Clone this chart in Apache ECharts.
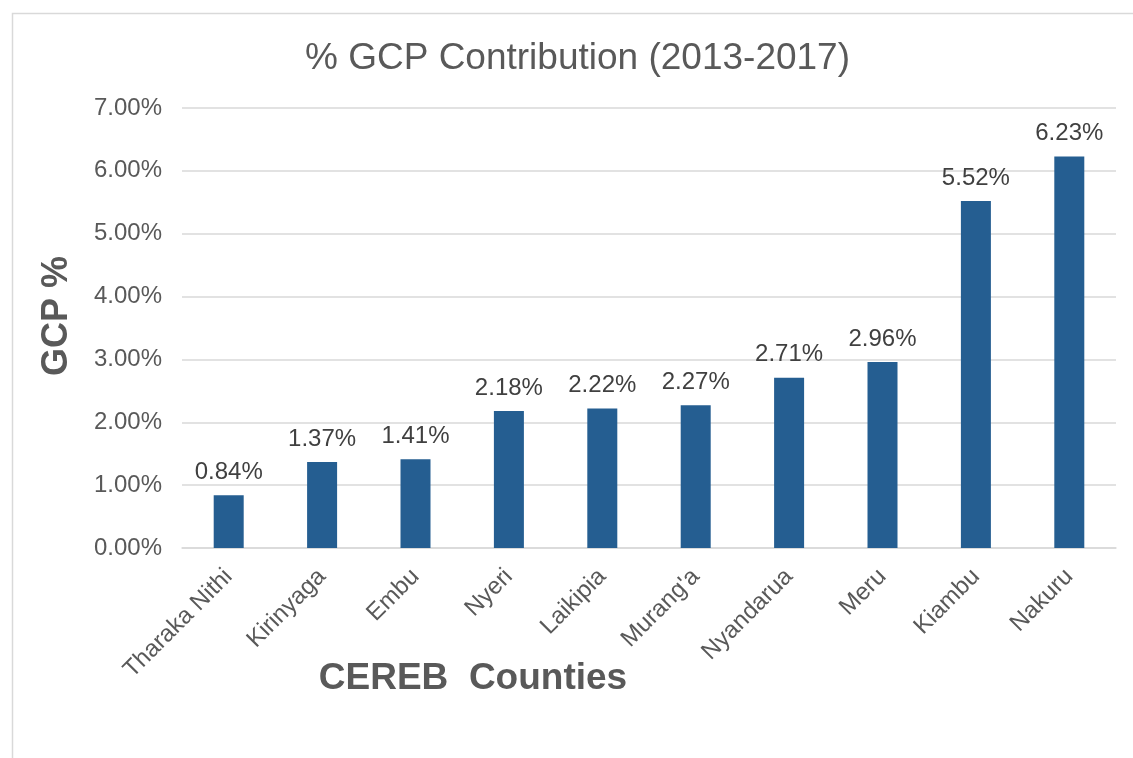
<!DOCTYPE html>
<html>
<head>
<meta charset="utf-8">
<script src="https://cdn.jsdelivr.net/npm/echarts@6/dist/echarts.min.js"></script>
<style>
  html, body { margin: 0; padding: 0; background: #fff; }
  #chart { width: 1133px; height: 758px; }
</style>
</head>
<body>
<div id="chart"></div>
<script>
// county names along the x axis
var counties = ['Tharaka Nithi', 'Kirinyaga', 'Embu', 'Nyeri', 'Laikipia', "Murang'a", 'Nyandarua', 'Meru', 'Kiambu', 'Nakuru'];
// GCP share in percent
var gcpShare = [0.84, 1.37, 1.41, 2.18, 2.22, 2.27, 2.71, 2.96, 5.52, 6.23];

var font = '"Liberation Sans", Arial, sans-serif';
var chart = echarts.init(document.getElementById('chart'));

chart.setOption({
  animation: false,
  backgroundColor: '#fff',
  textStyle: { fontFamily: font },
  title: {
    text: '% GCP Contribution (2013-2017)',
    left: 300,
    top: 35,
    textStyle: { fontFamily: font, fontSize: 37, fontWeight: 'normal', color: '#595959' }
  },
  graphic: [{
    type: 'rect',
    left: 10, top: 11,
    shape: { width: 1200, height: 800 },
    style: { fill: 'none', stroke: '#d9d9d9', lineWidth: 1.5 },
    silent: true
  }],
  grid: { left: 182, right: 17, top: 108, bottom: 210 },
  xAxis: {
    type: 'category',
    data: counties,
    name: 'CEREB  Counties',
    nameLocation: 'middle',
    nameGap: 112,
    nameMoveOverlap: false,
    nameTextStyle: { fontFamily: font, fontSize: 37, fontWeight: 'bold', color: '#595959', padding: [0, 352, 0, 0] },
    axisLine: { lineStyle: { color: '#d9d9d9', width: 1.5 } },
    axisTick: { show: false },
    axisLabel: { rotate: 45, interval: 0, fontSize: 24, color: '#595959', margin: 25 }
  },
  yAxis: {
    type: 'value',
    min: 0, max: 7, interval: 1,
    name: 'GCP %',
    nameLocation: 'middle',
    nameGap: 107,
    nameMoveOverlap: false,
    nameTextStyle: { fontFamily: font, fontSize: 36, fontWeight: 'bold', color: '#595959', padding: [0, 0, 0, 24] },
    axisLine: { show: false },
    axisTick: { show: false },
    axisLabel: {
      fontSize: 24, color: '#595959', margin: 20,
      formatter: function (v) { return v.toFixed(2) + '%'; }
    },
    splitLine: { lineStyle: { color: '#d9d9d9', width: 1.5 } }
  },
  series: [{
    type: 'bar',
    data: gcpShare,
    barWidth: 30,
    itemStyle: { color: '#255e91' },
    label: {
      show: true,
      position: 'top',
      distance: 11,
      fontSize: 24,
      color: '#404040',
      formatter: function (p) { return p.value.toFixed(2) + '%'; }
    }
  }]
});
</script>
</body>
</html>
